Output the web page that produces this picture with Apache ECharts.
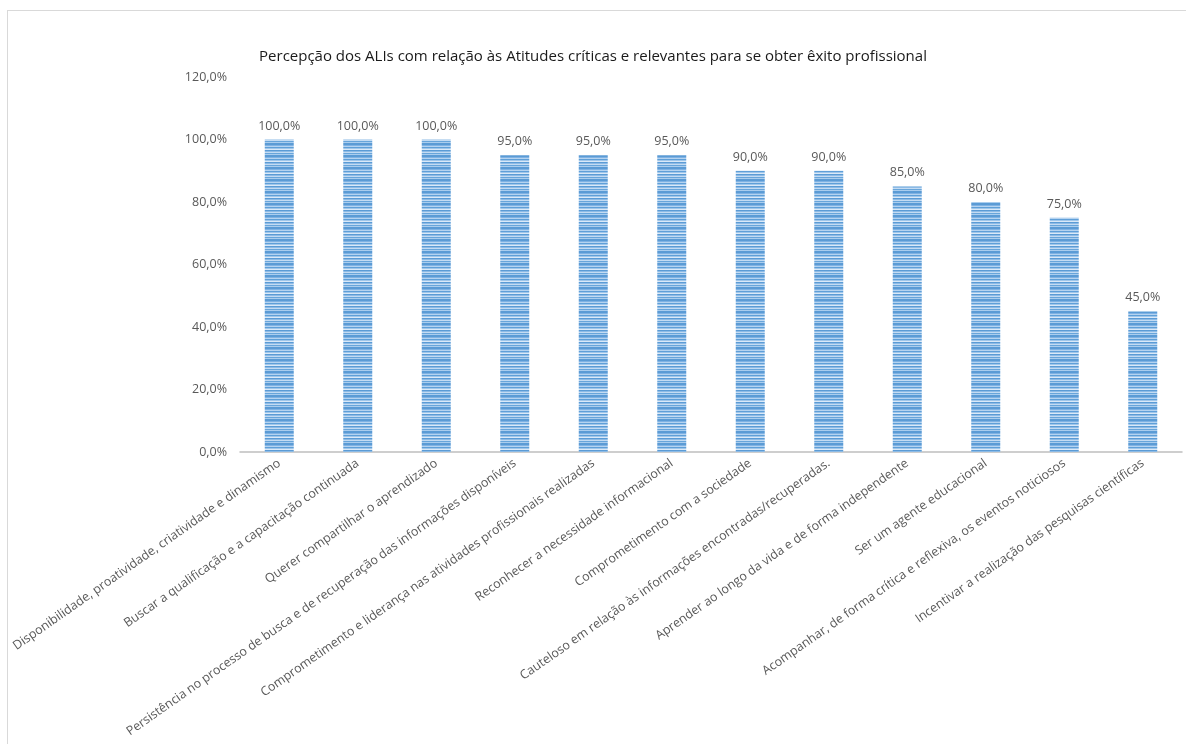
<!DOCTYPE html>
<html>
<head>
<meta charset="utf-8">
<script src="https://cdn.jsdelivr.net/npm/echarts@6/dist/echarts.min.js"></script>
<style>
  html, body { margin: 0; padding: 0; background: #fff; }
  #frame { position: absolute; left: 7px; top: 10px; width: 1186px; height: 744px; border: 1px solid #d9d9d9; box-sizing: border-box; }
  #chart { position: absolute; left: 0; top: 0; width: 1186px; height: 744px; }
</style>
</head>
<body>
<div id="frame"></div>
<div id="chart"></div>
<script>
// categorias (eixo x)
var categorias = [
  'Disponibilidade, proatividade, criatividade e dinamismo',
  'Buscar a qualificação e a capacitação continuada',
  'Querer compartilhar o aprendizado',
  'Persistência no processo de busca e de recuperação das informações disponíveis',
  'Comprometimento e liderança nas atividades profissionais realizadas',
  'Reconhecer a necessidade informacional',
  'Comprometimento com a sociedade',
  'Cauteloso em relação às informações encontradas/recuperadas.',
  'Aprender ao longo da vida e de forma independente',
  'Ser um agente educacional',
  'Acompanhar, de forma crítica e reflexiva, os eventos noticiosos',
  'Incentivar a realização das pesquisas científicas'
];
// percentuais
var valores = [100, 100, 100, 95, 95, 95, 90, 90, 85, 80, 75, 45];
// marcas do eixo y
var yMin = 0, yMax = 120, yPasso = 20;

var titulo = 'Percepção dos ALIs com relação às Atitudes críticas e relevantes para se obter êxito profissional';

// padrão listrado das barras (estilo Excel)
function listras() {
  var c = document.createElement('canvas');
  var cores = ['#5b9bd5', '#7fb2e3', '#b5d3f0', '#5f9fd8', '#9fc6ea', '#dae9f8',
               '#5b9bd5', '#8dbbe6', '#c3dbf3', '#68a5da', '#aacdee', '#5b9bd5'];
  c.width = 4;
  c.height = cores.length;
  var ctx = c.getContext('2d');
  for (var i = 0; i < cores.length; i++) {
    ctx.fillStyle = cores[i];
    ctx.fillRect(0, i, 4, 1);
  }
  return c;
}

function fmt(v) { return v.toFixed(1).replace('.', ',') + '%'; }

var chart = echarts.init(document.getElementById('chart'));
var fonte = '"Open Sans", "Noto Sans", sans-serif';

var option = {
  animation: false,
  title: {
    text: titulo,
    left: 'center',
    top: 44,
    textStyle: { fontFamily: fonte, fontSize: 15, fontWeight: 'normal', color: '#1a1a1a' }
  },
  grid: { left: 240, right: 4, top: 77, bottom: 292 },
  xAxis: {
    type: 'category',
    data: categorias,
    axisLine: { lineStyle: { color: '#bfbfbf', width: 1.5 } },
    axisTick: { show: false },
    axisLabel: {
      interval: 0,
      rotate: 35,
      margin: 10,
      color: '#595959',
      fontFamily: fonte,
      fontSize: 12.5
    }
  },
  yAxis: {
    type: 'value',
    min: yMin,
    max: yMax,
    interval: yPasso,
    splitLine: { show: false },
    axisLine: { show: false },
    axisTick: { show: false },
    axisLabel: {
      margin: 13,
      color: '#595959',
      fontFamily: fonte,
      fontSize: 12.5,
      formatter: function (v) { return fmt(v); }
    }
  },
  series: [{
    type: 'bar',
    data: valores,
    barWidth: 29,
    itemStyle: {
      color: { image: listras(), repeat: 'repeat' }
    },
    label: {
      show: true,
      position: 'top',
      distance: 7,
      color: '#595959',
      fontFamily: fonte,
      fontSize: 12.5,
      formatter: function (p) { return fmt(p.value); }
    }
  }]
};

chart.setOption(option);
</script>
</body>
</html>
